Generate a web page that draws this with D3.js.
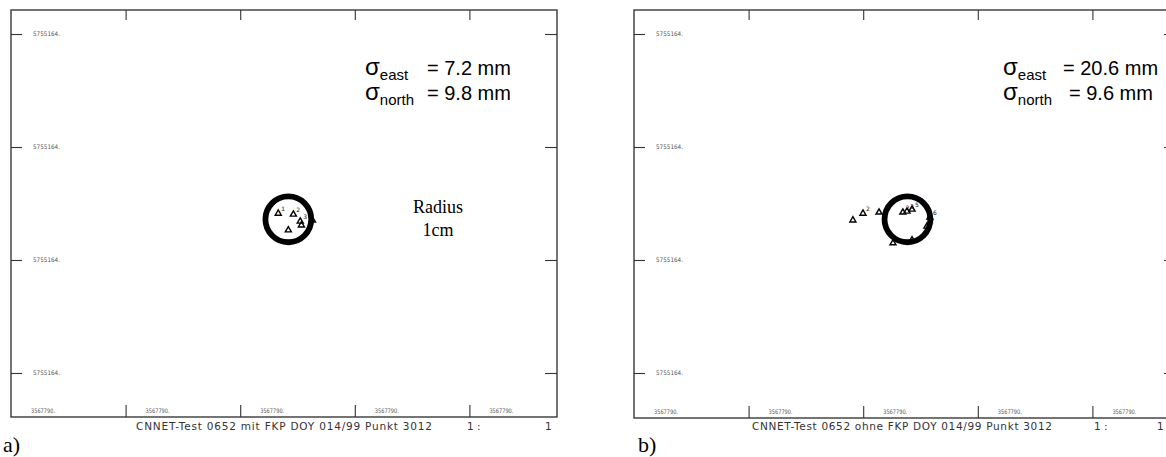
<!DOCTYPE html>
<html><head><meta charset="utf-8">
<script src="https://cdn.jsdelivr.net/npm/d3@7"></script>
<style>body{margin:0;background:#fff}svg{display:block}</style>
</head><body><svg id="c" width="1166" height="457"></svg>
<script>
// ---------- data ----------
const xTickValues = [0, 5, 10, 15, 20];          // east, cm
const yTickValues = [0, 5, 10, 15];              // north, cm
const xTickLabels = ["3567790.", "3567790.", "3567790.", "3567790.", "3567790."];
const yTickLabels = ["5755164.", "5755164.", "5755164.", "5755164."];
const panelIds = ["a)", "b)"];
const captions = ["CNNET-Test 0652 mit FKP DOY 014/99 Punkt 3012", "CNNET-Test 0652 ohne FKP DOY 014/99 Punkt 3012"];
const scaleLabels = ["1 :", "1"];
const sigmaEast = [7.2, 20.6];   // mm
const sigmaNorth = [9.8, 9.6];   // mm
const centerEast = [12.1, 11.93]; // cm
const centerNorth = [6.8, 6.8];   // cm
const radiusCm = 1;
const radiusLabel = ["Radius", "1cm"];
// point offsets from reference point, mm
const ptsA_east  = [-4.4, 2.2, 5.2, 0.0, 5.7, 10.5];
const ptsA_north = [2.6, 2.2, -0.9, -4.8, -2.6, -0.4];
const ptsA_label = ["1", "2", "3", "", "", ""];
const ptsB_east  = [-23.8, -19.4, -12.4, -2.0, -0.2, 2.0, 9.8, 8.5, -6.3, 2.0];
const ptsB_north = [-0.4, 2.6, 3.1, 3.1, 3.5, 4.4, 0.9, -3.1, -10.5, -9.2];
const ptsB_label = ["", "2", "", "2", "3", "5", "6", "2", "", ""];

// ---------- layout ----------
const svg = d3.select("#c");
const frames = [
  {left: 11, right: 557, top: 10, bottom: 417},
  {left: 634, right: 1176, top: 10, bottom: 418}
];
const pxPerCm = 22.92;
const yPxPerCm = 22.6;
const pts = [
  ptsA_east.map((e, i) => ({e, n: ptsA_north[i], l: ptsA_label[i]})),
  ptsB_east.map((e, i) => ({e, n: ptsB_north[i], l: ptsB_label[i]}))
];
const sigmaX = [365, 1003];
const eqX = [[427, 427], [1063, 1069]];
const captionX = [[136, 432], [752, 1052]];
const scaleX = [[467, 545], [1094, 1157]];

frames.forEach((f, p) => {
  const g = svg.append("g");
  const x = d3.scaleLinear().domain([0, (f.right - f.left) / pxPerCm]).range([f.left, f.right]);
  const y = d3.scaleLinear().domain([-(f.bottom - 373) / yPxPerCm, (373 - f.top) / yPxPerCm]).range([f.bottom, f.top]);

  // frame
  g.append("rect").attr("x", f.left).attr("y", f.top)
    .attr("width", f.right - f.left).attr("height", f.bottom - f.top)
    .attr("fill", "none").attr("stroke", "#2a2a2a").attr("stroke-width", 1.3);

  const tickStroke = "#333";
  const bottomAxis = d3.axisBottom(x).tickValues(xTickValues.slice(1)).tickSize(-12).tickFormat("");
  const topAxis = d3.axisTop(x).tickValues(xTickValues.slice(1)).tickSize(-10).tickFormat("");
  const leftAxis = d3.axisLeft(y).tickValues(yTickValues).tickSize(-11).tickFormat("");
  const rightAxis = d3.axisRight(y).tickValues(yTickValues).tickSize(-12).tickFormat("");
  [[bottomAxis, `translate(0,${f.bottom})`], [topAxis, `translate(0,${f.top})`],
   [leftAxis, `translate(${f.left},0)`], [rightAxis, `translate(${f.right},0)`]].forEach(([ax, tr]) => {
    const a = g.append("g").attr("transform", tr).call(ax);
    a.select(".domain").remove();
    a.selectAll("line").attr("stroke", tickStroke).attr("stroke-width", 1.1);
  });

  // x tick labels
  g.selectAll(".xl").data(xTickValues).enter().append("text")
    .attr("x", d => x(d) + 20).attr("y", f.bottom - 4)
    .attr("font-family", "DejaVu Sans").attr("font-size", 6.2).attr("fill", "#555")
    .attr("textLength", 24).attr("lengthAdjust", "spacingAndGlyphs")
    .text((d, i) => xTickLabels[i]);
  // y tick labels
  g.selectAll(".yl").data(yTickValues).enter().append("text")
    .attr("x", f.left + 22).attr("y", d => y(d) + 2)
    .attr("font-family", "DejaVu Sans").attr("font-size", 6.2).attr("fill", "#555")
    .attr("textLength", 27).attr("lengthAdjust", "spacingAndGlyphs")
    .text((d, i) => yTickLabels[i]);

  // radius circle
  const cx = x(centerEast[p]), cy = y(centerNorth[p]);
  g.append("circle").attr("cx", cx).attr("cy", cy)
    .attr("r", x(radiusCm) - x(0))
    .attr("fill", "none").attr("stroke", "#000").attr("stroke-width", 5.8);

  // points
  const sym = d3.symbol().type(d3.symbolTriangle).size(16);
  const pg = g.selectAll(".pt").data(pts[p]).enter().append("g")
    .attr("transform", d => `translate(${x(centerEast[p] + d.e / 10)},${y(centerNorth[p] + d.n / 10)})`);
  pg.append("path").attr("d", sym).attr("fill", "none").attr("stroke", "#000").attr("stroke-width", 1.4);
  pg.append("text").attr("x", 3).attr("y", -2)
    .attr("font-family", "DejaVu Sans").attr("font-size", 6).attr("fill", "#111")
    .text(d => d.l);

  // sigma annotations
  const sig = [["east", sigmaEast[p], 75], ["north", sigmaNorth[p], 100]];
  sig.forEach(([sub, val, by], k) => {
    const t = g.append("text").attr("x", sigmaX[p]).attr("y", by)
      .attr("font-family", "Liberation Sans, Arial").attr("font-size", 24).attr("fill", "#000");
    t.append("tspan").text("σ");
    t.append("tspan").attr("dy", 5).attr("font-size", 15).text(sub);
    g.append("text").attr("x", eqX[p][k]).attr("y", by)
      .attr("font-family", "Liberation Sans, Arial").attr("font-size", 20).attr("fill", "#000")
      .text(`= ${val.toFixed(1)} mm`);
  });

  // caption
  g.append("text").attr("x", captionX[p][0]).attr("y", 430)
    .attr("font-family", "DejaVu Sans").attr("font-size", 10.5).attr("fill", "#333")
    .attr("textLength", captionX[p][1] - captionX[p][0]).attr("lengthAdjust", "spacing")
    .text(captions[p]);
  g.append("text").attr("x", scaleX[p][0]).attr("y", 430)
    .attr("font-family", "DejaVu Sans").attr("font-size", 10.5).attr("fill", "#333")
    .attr("xml:space", "preserve").text(scaleLabels[0]);
  g.append("text").attr("x", scaleX[p][1]).attr("y", 430)
    .attr("font-family", "DejaVu Sans").attr("font-size", 10.5).attr("fill", "#333")
    .text(scaleLabels[1]);

  // panel id
  g.append("text").attr("x", p ? 638 : 3).attr("y", 452)
    .attr("font-family", "Liberation Serif, Times New Roman").attr("font-size", 22).attr("fill", "#000")
    .text(panelIds[p]);
});

// radius annotation (panel a)
const rg = svg.append("g");
radiusLabel.forEach((s, i) => {
  rg.append("text").attr("x", 438).attr("y", 213 + i * 23).attr("text-anchor", "middle")
    .attr("font-family", "Liberation Serif, Times New Roman").attr("font-size", 18).attr("fill", "#000")
    .text(s);
});
</script></body></html>
